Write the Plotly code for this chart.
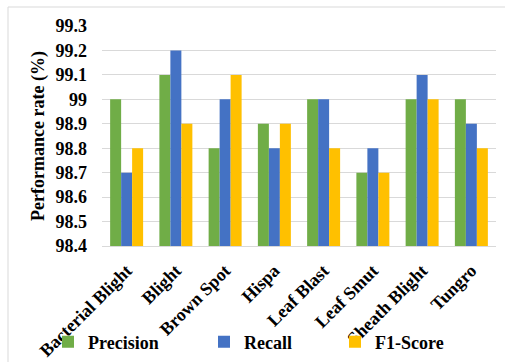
import plotly.graph_objects as go

# Rice leaf disease classes and per-class scores (%)
categories = ["Bacterial Blight", "Blight", "Brown Spot", "Hispa",
              "Leaf Blast", "Leaf Smut", "Sheath Blight", "Tungro"]
precision = [99.0, 99.1, 98.8, 98.9, 99.0, 98.7, 99.0, 99.0]
recall = [98.7, 99.2, 99.0, 98.8, 99.0, 98.8, 99.1, 98.9]
f1_score = [98.8, 98.9, 99.1, 98.9, 98.8, 98.7, 99.0, 98.8]

y_ticks = [98.4, 98.5, 98.6, 98.7, 98.8, 98.9, 99.0, 99.1, 99.2, 99.3]
y_tick_labels = ["98.4", "98.5", "98.6", "98.7", "98.8", "98.9",
                 "99", "99.1", "99.2", "99.3"]

FONT = "Liberation Serif"
W, H = 505, 362
ML, MR, MT, MB = 102, 9, 26, 116
PW, PH = W - ML - MR, H - MT - MB


def px_x(x):
    return (x - ML) / PW


def px_y(y):
    return (H - MB - y) / PH


def bold(text):
    return f"<b>{text}</b>"


def font(size=18):
    return dict(family=FONT, size=size, color="black")


series = [
    ("Precision", precision, "#70AD47", "legend", 48),
    ("Recall", recall, "#4472C4", "legend2", 204),
    ("F1-Score", f1_score, "#FFC000", "legend3", 335),
]

fig = go.Figure()
for name, vals, color, leg, _ in series:
    fig.add_trace(go.Bar(
        x=categories, y=vals, name=bold(name), legend=leg,
        marker=dict(color=color, line=dict(width=0)),
    ))

layout_legends = {}
for _, _, _, leg, xpix in series:
    layout_legends[leg] = dict(
        orientation="h", yanchor="middle", xanchor="left",
        bgcolor="rgba(0,0,0,0)", font=font(18),
        x=px_x(xpix), y=px_y(342),
    )

fig.update_layout(
    width=W, height=H,
    margin=dict(l=ML, r=MR, t=MT, b=MB, autoexpand=False),
    paper_bgcolor="white", plot_bgcolor="white",
    barmode="group", bargap=0.33, bargroupgap=0,
    font=font(18),
    showlegend=True,
    **layout_legends,
)

fig.update_xaxes(
    automargin=False,
    tickangle=-45, showgrid=False, showline=True, linecolor="#D9D9D9",
    linewidth=1, ticks="", ticklabelstandoff=6,
    tickmode="array", tickvals=categories,
    ticktext=[bold(c) for c in categories],
    tickfont=font(18),
)
fig.update_yaxes(
    automargin=False,
    range=[98.4, 99.3], tickvals=y_ticks,
    ticktext=[bold(t) for t in y_tick_labels],
    showgrid=True, gridcolor="#D9D9D9", gridwidth=1, zeroline=False,
    ticks="", ticklabelstandoff=14,
    tickfont=font(18),
    title=dict(text=bold("Performance rate (%)"), standoff=6, font=font(18)),
)

# Light frame around the chart area
fig.add_shape(
    type="rect", xref="paper", yref="paper",
    x0=px_x(8), x1=px_x(W + 20), y0=px_y(H + 20), y1=px_y(7),
    line=dict(color="#D9D9D9", width=1), layer="below",
)

fig.write_html("out.html")
